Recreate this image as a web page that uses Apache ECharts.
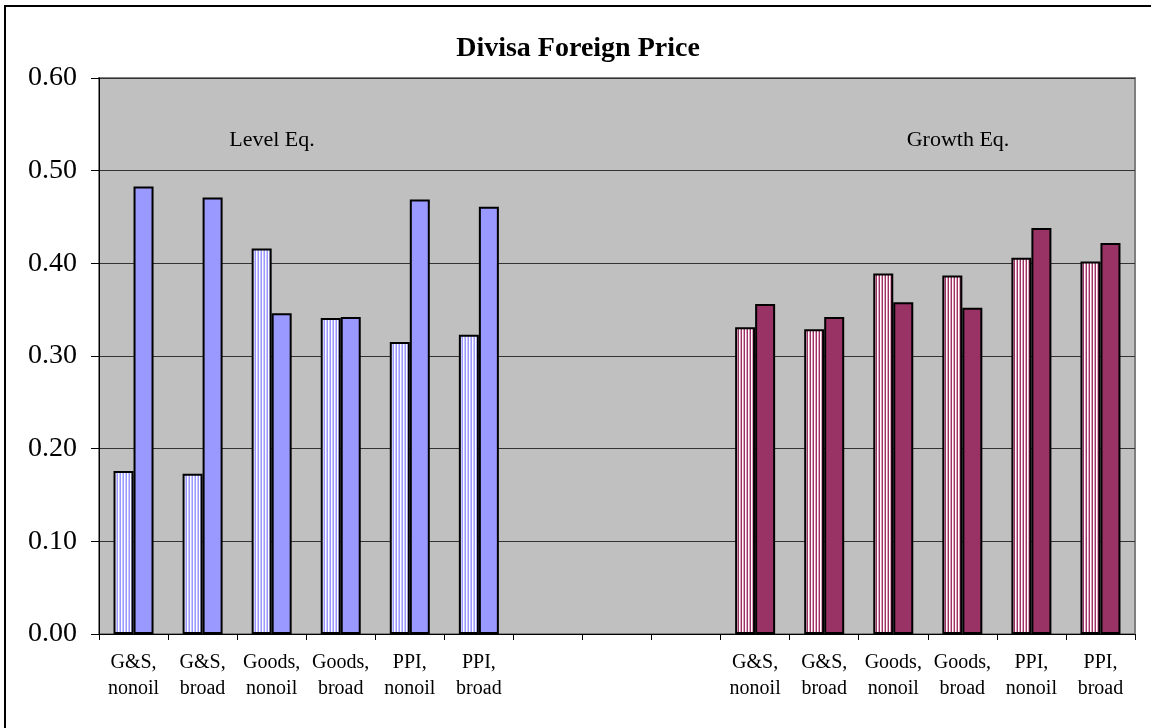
<!DOCTYPE html>
<html><head><meta charset="utf-8">
<script src="https://cdn.jsdelivr.net/npm/echarts@6/dist/echarts.min.js"></script>
<style>html,body{margin:0;padding:0;background:#fff}#c{width:1151px;height:728px}</style>
</head><body><div id="c"></div>
<script>
// ---- data ----
const levelCats = ['G&S,\nnonoil','G&S,\nbroad','Goods,\nnonoil','Goods,\nbroad','PPI,\nnonoil','PPI,\nbroad'];
const growthCats = ['G&S,\nnonoil','G&S,\nbroad','Goods,\nnonoil','Goods,\nbroad','PPI,\nnonoil','PPI,\nbroad'];
const gapCats = ['','',''];
const levelFirst  = [0.176, 0.173, 0.416, 0.341, 0.315, 0.323];
const levelSecond = [0.483, 0.471, 0.346, 0.342, 0.469, 0.461];
const growthFirst  = [0.331, 0.329, 0.389, 0.387, 0.406, 0.402];
const growthSecond = [0.356, 0.342, 0.358, 0.352, 0.438, 0.422];
const yTicks = [0, 0.1, 0.2, 0.3, 0.4, 0.5, 0.6];
const titleText = 'Divisa Foreign Price';
const groupLabels = ['Level Eq.', 'Growth Eq.'];

// ---- patterns ----
function stripe(cols){
  const c = document.createElement('canvas');
  c.width = cols.length; c.height = 4;
  const g = c.getContext('2d');
  cols.forEach((col,i)=>{ g.fillStyle = col; g.fillRect(i,0,1,4); });
  return c;
}
const levelStripe = {image: stripe(['#9999ff','#ffffff','#c8c8ff']), repeat:'repeat'};
const growthStripe = {image: stripe(['#993366','#ffffff','#e0a0c0']), repeat:'repeat'};
const levelSolid = '#9999ff';
const growthSolid = '#993366';

const categories = levelCats.concat(gapCats, growthCats);
function build(lv, gr, lc, gc){
  const out = [];
  lv.forEach(v=>out.push({value:v, itemStyle:{color:lc}}));
  gapCats.forEach(()=>out.push({value:null}));
  gr.forEach(v=>out.push({value:v, itemStyle:{color:gc}}));
  return out;
}
const serif = '"Liberation Serif","DejaVu Serif",serif';

const chart = echarts.init(document.getElementById('c'), null, {renderer:'canvas'});
chart.setOption({
  animation:false,
  backgroundColor:'#ffffff',
  grid:{left:99, right:16, top:78, bottom:94, show:true, backgroundColor:'#c0c0c0', borderColor:'#808080', borderWidth:2},
  xAxis:{type:'category', data:categories,
    axisLine:{lineStyle:{color:'#000', width:1}},
    axisTick:{show:true, length:6, lineStyle:{color:'#000'}},
    axisLabel:{color:'#000', fontFamily:serif, fontSize:20, lineHeight:26, margin:16, interval:0}
  },
  yAxis:{type:'value', min:0, max:0.6, interval:0.1,
    axisLine:{show:true, lineStyle:{color:'#000', width:1}},
    axisTick:{show:true, length:8, lineStyle:{color:'#000'}},
    axisLabel:{color:'#000', fontFamily:serif, fontSize:28, margin:22, padding:[4,0,0,0], formatter:v=>v.toFixed(2)},
    splitLine:{lineStyle:{color:'#333', width:1}}
  },
  series:[
    {type:'bar', data:build(levelFirst, growthFirst, levelStripe, growthStripe), barWidth:20, barGap:'0%',
      itemStyle:{borderColor:'#000', borderWidth:2}},
    {type:'bar', data:build(levelSecond, growthSecond, levelSolid, growthSolid), barWidth:20, barGap:'0%',
      itemStyle:{borderColor:'#000', borderWidth:2}}
  ],
  graphic:[
    {type:'rect', shape:{x:5, y:6, width:1200, height:800}, style:{fill:'none', stroke:'#000', lineWidth:2}, silent:true},
    {type:'text', x:578, y:49, style:{text:titleText, font:'bold 28px '+serif, fill:'#000', textAlign:'center', textVerticalAlign:'middle'}},
    {type:'text', x:272, y:140, style:{text:groupLabels[0], font:'22px '+serif, fill:'#000', textAlign:'center', textVerticalAlign:'middle'}},
    {type:'text', x:958, y:140, style:{text:groupLabels[1], font:'22px '+serif, fill:'#000', textAlign:'center', textVerticalAlign:'middle'}}
  ]
});
</script></body></html>
